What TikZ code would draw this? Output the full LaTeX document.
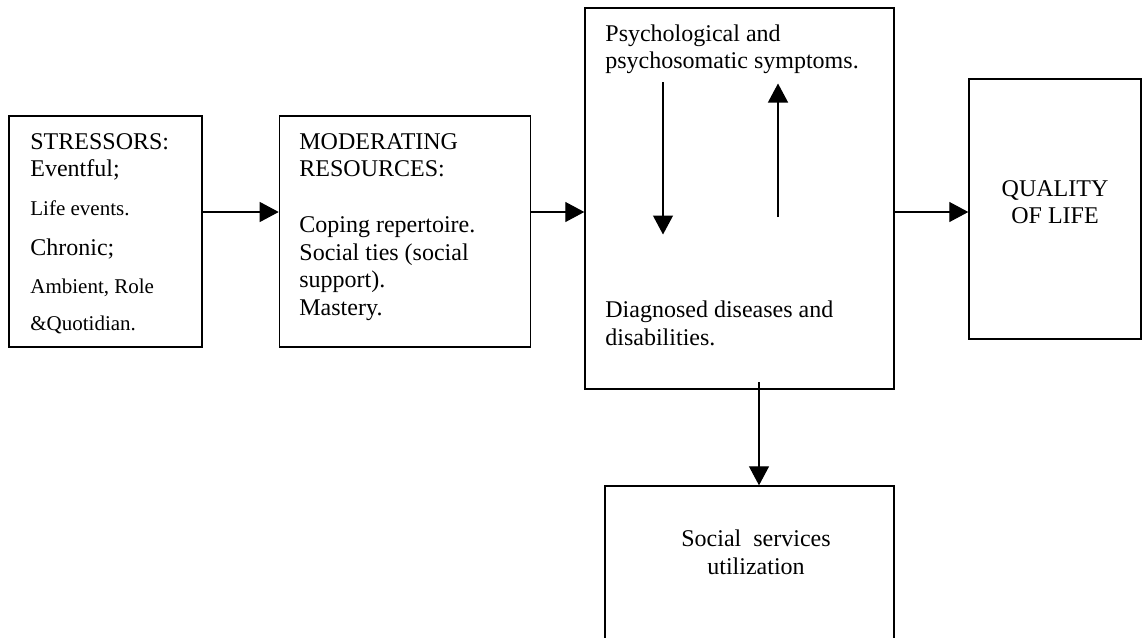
\documentclass[tikz,border=0pt]{standalone}
\usepackage{fontspec}
\setmainfont{Liberation Serif}
\usepackage{tikz}
\usetikzlibrary{arrows.meta, positioning}

\newcommand{\smalltext}{\fontsize{10.5}{13.8}\selectfont}

\begin{document}
\begin{tikzpicture}[
    x=0.5pt, y=-0.5pt,
    box/.style={rectangle, draw, line width=0.7pt, inner sep=0pt},
    txt/.style={inner sep=0pt, font=\fontsize{12}{13.8}\selectfont},
    arrow/.style={-{Triangle[length=9.5pt, width=10pt]}, line width=0.6pt}
]
    \useasboundingbox (0,0) rectangle (1144,637);
    \clip (0,0) rectangle (1144,637);

    % Boxes
    \node[box, minimum width=96.5pt, minimum height=115.5pt] (stressors) at (105.5,231.5) {};
    \node[box, minimum width=125.5pt, minimum height=115.5pt, right=38pt of stressors] (resources) {};
    \node[box, minimum width=154.5pt, minimum height=190.5pt] (health) at (739.5,198.5) {};
    \node[box, minimum width=86pt, minimum height=130pt] (quality) at (1055,209) {};
    \node[box, minimum width=144.5pt, minimum height=107pt] (services) at (749.5,593) {};

    % Texts
    \node[txt, anchor=north west, align=left] (stresstext) at (30,133)
        {STRESSORS:\\Eventful;\\[5.7pt]{\smalltext Life events.}\\[6.2pt]Chronic;\\[5.2pt]{\smalltext Ambient, Role}\\[4.7pt]{\smalltext \&Quotidian.}};
    \node[txt, anchor=north west, align=left] (resourcetext) at (299,133)
        {MODERATING\\RESOURCES:\\[14pt]Coping repertoire.\\Social ties (social\\support).\\Mastery.};
    \node[txt, anchor=north west, align=left] (symptoms) at (605,24) {Psychological and\\psychosomatic symptoms.};
    \node[txt, anchor=north west, align=left] (diseases) at (605,300.5) {Diagnosed diseases and\\disabilities.};
    \node[txt, anchor=north, align=center] (qualitytext) at (1055,180) {QUALITY\\OF LIFE};
    \node[txt, anchor=north, align=center] (servicetext) at (756,529.5) {Social\ \ services\\utilization};

    % Arrows
    \coordinate (flow) at (0,212);
    \coordinate (downtop) at (663,82);
    \coordinate (downend) at (663,234.5);
    \coordinate (upstart) at (778,217);
    \coordinate (upend) at (778,83.5);
    \coordinate (outlet) at (759,382);
    \draw[arrow] (stressors.east |- flow) -- (resources.west |- flow);
    \draw[arrow] (resources.east |- flow) -- (health.west |- flow);
    \draw[arrow] (health.east |- flow) -- (quality.west |- flow);
    \draw[arrow] (downtop) -- (downend);
    \draw[arrow] (upstart) -- (upend);
    \draw[arrow] (outlet) -- (outlet |- services.north);
\end{tikzpicture}
\end{document}
